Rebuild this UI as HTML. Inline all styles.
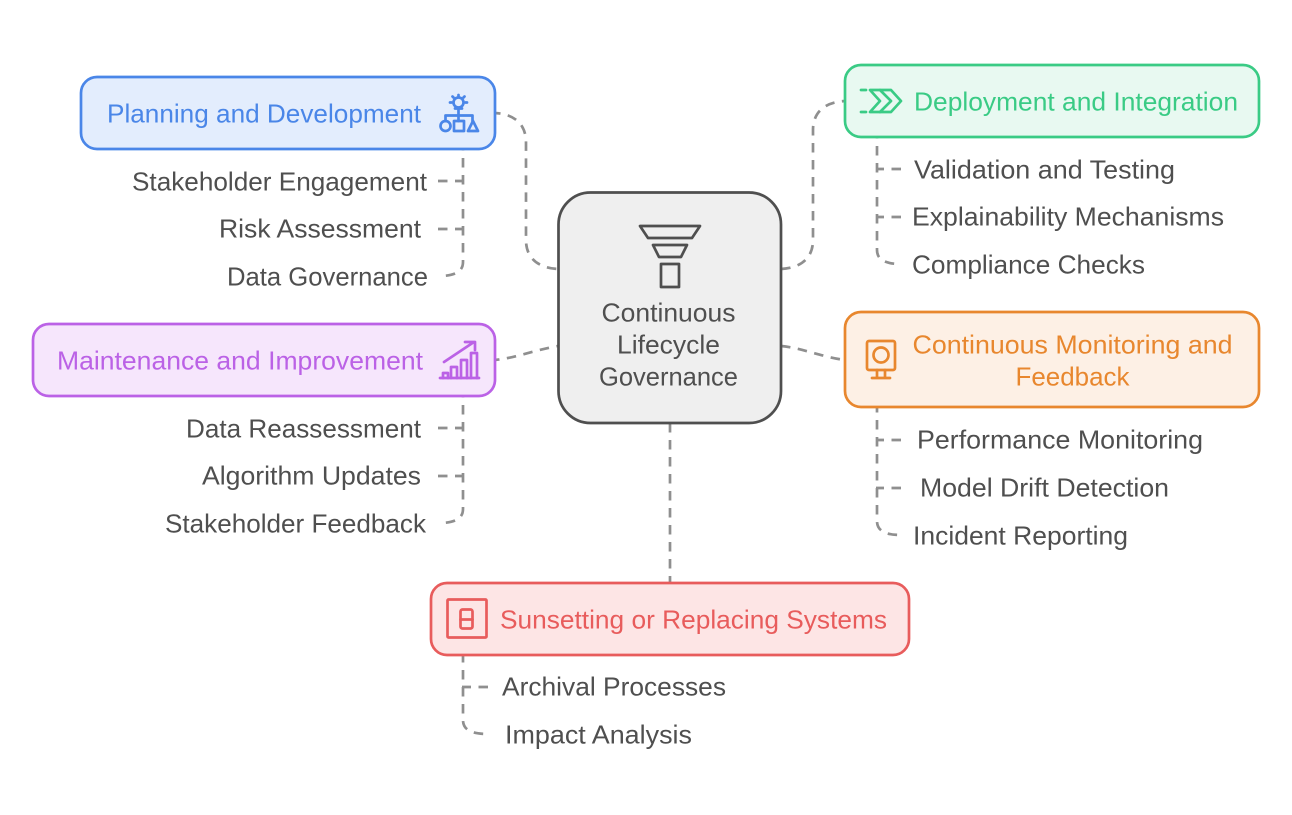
<!DOCTYPE html>
<html lang="en">
<head>
<meta charset="utf-8">
<title>Continuous Lifecycle Governance</title>
<style>
html,body{margin:0;padding:0;background:#fff;width:1292px;height:815px;overflow:hidden}
svg{display:block}
text{font-family:"Liberation Sans",sans-serif;font-size:26px;transform:translateY(.5px)}
.t{fill:#4f4f4f}
.c{fill:none;stroke:#8f8f8f;stroke-width:2.7;stroke-dasharray:9.500 7.500}
.i{fill:none;stroke-width:2.7;stroke-linejoin:round;stroke-linecap:round}
</style>
</head>
<body>
<svg width="1292" height="815" viewBox="0 0 1292 815" xmlns="http://www.w3.org/2000/svg">
<rect width="1292" height="815" fill="#fff"/>

<!-- connectors -->
<path class="c" stroke-dashoffset="4" d="M495 113C514 114 526 124 526 142V240C526 258 538 268 558 269"/>
<path class="c" d="M463 149V262C463 271 456 276 439 276" stroke-dashoffset="8"/>
<path class="c" d="M438 181H463M438 229H463"/>
<path class="c" d="M781 269C801 268 813 258 813 240V130C813 112 825 102 845 101"/>
<path class="c" d="M877 137V250C877 259 884 264 901 264" stroke-dashoffset="8"/>
<path class="c" d="M901 169H876M901 217H876"/>
<path class="c" stroke-dashoffset="5" d="M495 360C515 358 535 350 558 346"/>
<path class="c" d="M463 396V509C463 518 456 523 439 523" stroke-dashoffset="8"/>
<path class="c" d="M438 428H463M438 476H463"/>
<path class="c" d="M781 346C802 348 822 357 845 360"/>
<path class="c" d="M877 407V521C877 530 884 535 901 535" stroke-dashoffset="4"/>
<path class="c" d="M901 440H876M901 488H876"/>
<path class="c" d="M670 423V583"/>
<path class="c" d="M463 655V720C463 729 470 734 488 734" stroke-dashoffset="2"/>
<path class="c" d="M488 687H462"/>

<!-- center node -->
<rect x="558.500" y="192.500" width="222.500" height="230.500" rx="32" fill="#efefef" stroke="#4f4f4f" stroke-width="2.7"/>
<g class="i" stroke="#4f4f4f">
<path d="M640 226H700L692 238H648Z"/>
<path d="M653 245H687L681 257H659Z"/>
<path d="M661 264H679V287H661Z"/>
</g>
<text class="t" x="668.500" y="321" text-anchor="middle" textLength="134" lengthAdjust="spacingAndGlyphs">Continuous</text>
<text class="t" x="668.500" y="353" text-anchor="middle" textLength="103" lengthAdjust="spacingAndGlyphs">Lifecycle</text>
<text class="t" x="668.500" y="385" text-anchor="middle" textLength="139" lengthAdjust="spacingAndGlyphs">Governance</text>

<!-- blue -->
<rect x="81" y="77" width="414" height="72" rx="16" fill="#e3edfd" stroke="#4a86e8" stroke-width="2.7"/>
<text x="107" y="122" fill="#4a86e8" textLength="314" lengthAdjust="spacingAndGlyphs">Planning and Development</text>
<g class="i" stroke="#4a86e8">
<circle cx="458.500" cy="102.500" r="5"/>
<path d="M458.500 95V96.500M450 102.500H451.500M465.500 102.500H467M452.500 96.500L453.500 97.500M464.500 96.500L463.500 97.500M455 108.500H462M458.500 108.500V121M445.500 121V115.500H472.500V121"/>
<circle cx="445.500" cy="126" r="5"/>
<rect x="454" y="121" width="10" height="10"/>
<path d="M473 121L478 131H468Z"/>
</g>
<text class="t" x="427" y="190" text-anchor="end" textLength="295" lengthAdjust="spacingAndGlyphs">Stakeholder Engagement</text>
<text class="t" x="421" y="237" text-anchor="end" textLength="202" lengthAdjust="spacingAndGlyphs">Risk Assessment</text>
<text class="t" x="428" y="285" text-anchor="end" textLength="201" lengthAdjust="spacingAndGlyphs">Data Governance</text>

<!-- green -->
<rect x="845" y="65" width="414" height="72" rx="16" fill="#e8f9f1" stroke="#3acb85" stroke-width="2.7"/>
<text x="914" y="110" fill="#3acb85" textLength="324" lengthAdjust="spacingAndGlyphs">Deployment and Integration</text>
<g class="i" stroke="#3acb85">
<path d="M861 90H866M861 112H866"/>
<path d="M870 90H891L901 101L891 112H870L880 101Z"/>
<path d="M880 90L891 101L880 112"/>
</g>
<text class="t" x="914" y="178" textLength="261" lengthAdjust="spacingAndGlyphs">Validation and Testing</text>
<text class="t" x="912" y="225" textLength="312" lengthAdjust="spacingAndGlyphs">Explainability Mechanisms</text>
<text class="t" x="912" y="273" textLength="233" lengthAdjust="spacingAndGlyphs">Compliance Checks</text>

<!-- purple -->
<rect x="33" y="324" width="462" height="72" rx="16" fill="#f6e6fc" stroke="#bb62e6" stroke-width="2.7"/>
<text x="57" y="369" fill="#bb62e6" textLength="366" lengthAdjust="spacingAndGlyphs">Maintenance and Improvement</text>
<g class="i" stroke="#bb62e6">
<path d="M444 362L474 342M465 342H475V350"/>
<path d="M440 378H479"/>
<path d="M443 378V373H448V378M451 378V367H457V378M461 378V360H467V378M471 378V353H477V378"/>
</g>
<text class="t" x="421" y="437" text-anchor="end" textLength="235" lengthAdjust="spacingAndGlyphs">Data Reassessment</text>
<text class="t" x="421" y="484" text-anchor="end" textLength="219" lengthAdjust="spacingAndGlyphs">Algorithm Updates</text>
<text class="t" x="426" y="532" text-anchor="end" textLength="261" lengthAdjust="spacingAndGlyphs">Stakeholder Feedback</text>

<!-- orange -->
<rect x="845" y="312" width="414" height="95" rx="16" fill="#fdf0e5" stroke="#e8872e" stroke-width="2.7"/>
<text x="1072.500" y="353" text-anchor="middle" fill="#e8872e" textLength="320" lengthAdjust="spacingAndGlyphs">Continuous Monitoring and</text>
<text x="1072.500" y="385" text-anchor="middle" fill="#e8872e" textLength="114" lengthAdjust="spacingAndGlyphs">Feedback</text>
<g class="i" stroke="#e8872e">
<rect x="867" y="341" width="28" height="29" rx="2"/>
<circle cx="881" cy="355" r="7.500"/>
<path d="M877 370V378M885 370V378M872 378H890"/>
</g>
<text class="t" x="917" y="448" textLength="286" lengthAdjust="spacingAndGlyphs">Performance Monitoring</text>
<text class="t" x="920" y="496" textLength="249" lengthAdjust="spacingAndGlyphs">Model Drift Detection</text>
<text class="t" x="913" y="544" textLength="215" lengthAdjust="spacingAndGlyphs">Incident Reporting</text>

<!-- red -->
<rect x="431" y="583" width="478" height="72" rx="16" fill="#fde5e5" stroke="#e85c5c" stroke-width="2.7"/>
<text x="500" y="628" fill="#e85c5c" textLength="387" lengthAdjust="spacingAndGlyphs">Sunsetting or Replacing Systems</text>
<g class="i" stroke="#e85c5c">
<rect x="447.500" y="599.500" width="39" height="38" rx="1"/>
<rect x="460.500" y="609.500" width="12" height="19" rx="2"/>
<path d="M460.500 619.500H472.500"/>
</g>
<text class="t" x="502" y="695" textLength="224" lengthAdjust="spacingAndGlyphs">Archival Processes</text>
<text class="t" x="505" y="743" textLength="187" lengthAdjust="spacingAndGlyphs">Impact Analysis</text>
</svg>
</body>
</html>
